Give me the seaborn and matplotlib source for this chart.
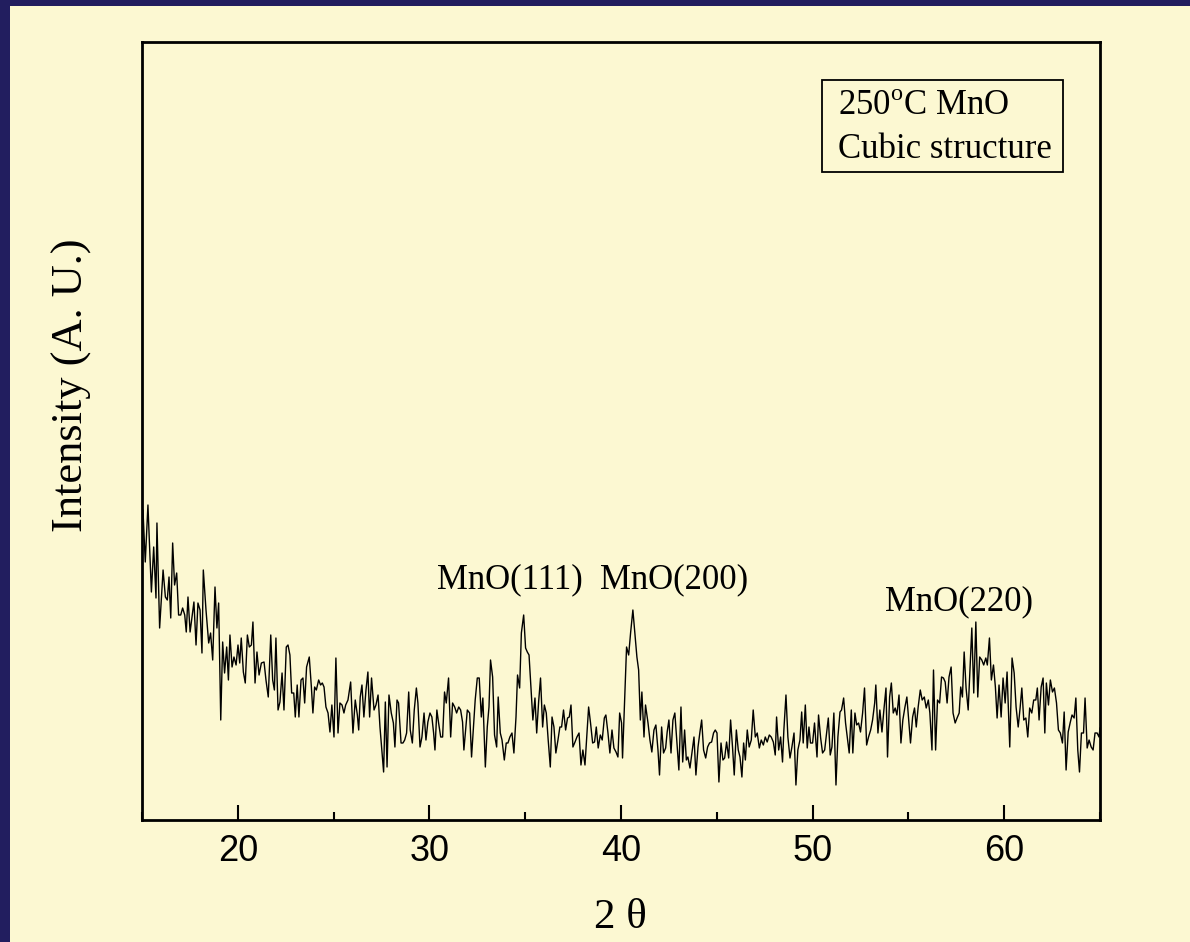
import numpy as np
import pandas as pd
import matplotlib
matplotlib.use("Agg")
import matplotlib.pyplot as plt
import seaborn as sns
from matplotlib.ticker import MultipleLocator
from matplotlib.patches import Rectangle

# XRD scan of 250 C MnO in pieces (2theta in degrees, intensity in a.u.)
tt_1 = [15.00, 15.05, 15.17, 15.31, 15.49, 15.61, 15.73, 15.78, 15.92, 16.10,
        16.22, 16.32, 16.41, 16.50, 16.60, 16.70, 16.81, 16.91, 17.02, 17.12,
        17.23, 17.31, 17.40, 17.51, 17.71, 17.82, 17.92, 18.03, 18.13, 18.20,
        18.34, 18.48, 18.58, 18.69, 18.81, 18.91, 19.00, 19.11, 19.21, 19.31,
        19.42, 19.51, 19.59, 19.70, 19.80, 19.91, 20.01, 20.10, 20.18, 20.29,
        20.39, 20.50, 20.60, 20.71, 20.79, 20.90, 21.00, 21.11, 21.23, 21.37,
        21.47, 21.59, 21.72, 21.82, 21.91, 21.99, 22.10, 22.20, 22.31, 22.41,
        22.53, 22.62, 22.72, 22.81, 22.92, 23.00, 23.10, 23.19, 23.30, 23.40]
int_1 = [290, 310, 258, 315, 228, 273, 222, 297, 192, 250,
         223, 220, 243, 202, 277, 235, 247, 205, 205, 212,
         205, 188, 223, 188, 218, 175, 217, 210, 167, 250,
         210, 177, 187, 160, 233, 192, 217, 100, 178, 147,
         173, 140, 185, 153, 163, 155, 175, 157, 182, 148,
         137, 185, 173, 175, 198, 137, 168, 145, 157, 158,
         140, 123, 185, 140, 130, 182, 110, 118, 147, 110,
         173, 175, 165, 127, 127, 103, 135, 103, 140, 142]

tt_2 = [23.49, 23.59, 23.73, 23.84, 23.92, 24.01, 24.10, 24.22, 24.32, 24.41,
        24.50, 24.60, 24.71, 24.81, 24.91, 25.02, 25.12, 25.23, 25.33, 25.44,
        25.54, 25.63, 25.75, 25.89, 26.01, 26.13, 26.24, 26.31, 26.39, 26.48,
        26.58, 26.69, 26.79, 26.88, 26.98, 27.11, 27.21, 27.32, 27.42, 27.52,
        27.61, 27.70, 27.79, 27.89, 28.01, 28.12, 28.20, 28.31, 28.39, 28.52,
        28.62, 28.71, 28.81, 28.92, 29.00, 29.11, 29.21, 29.32, 29.40, 29.51,
        29.61, 29.72, 29.82, 29.92, 30.03, 30.13, 30.22, 30.29, 30.39, 30.48,
        30.59, 30.69, 30.79, 30.88, 31.00, 31.11, 31.21, 31.32, 31.42, 31.53,
        31.63, 31.73]
int_2 = [117, 153, 163, 133, 107, 133, 130, 140, 135, 137,
         133, 113, 107, 88, 115, 83, 162, 87, 117, 115,
         107, 115, 120, 138, 87, 120, 105, 90, 123, 135,
         103, 130, 148, 103, 142, 110, 115, 125, 93, 70,
         48, 118, 53, 125, 107, 97, 73, 120, 117, 77,
         77, 80, 87, 128, 90, 77, 110, 132, 117, 73,
         83, 107, 80, 98, 107, 103, 87, 70, 110, 97,
         83, 83, 128, 117, 142, 83, 117, 113, 107, 113,
         110, 98]

tt_3 = [31.80, 31.98, 32.10, 32.20, 32.39, 32.50, 32.60, 32.71, 32.79, 32.92,
        33.02, 33.11, 33.19, 33.30, 33.40, 33.51, 33.59, 33.70, 33.79, 33.91,
        34.01, 34.10, 34.20, 34.31, 34.41, 34.52, 34.60, 34.71, 34.80, 34.92,
        35.02, 35.11, 35.20, 35.30, 35.40, 35.51, 35.60, 35.70, 35.80, 35.91,
        36.00, 36.10, 36.20, 36.31, 36.40, 36.50, 36.60, 36.71, 36.81, 36.90,
        37.00, 37.11, 37.21, 37.30, 37.39, 37.49, 37.60, 37.70, 37.81, 37.91,
        38.01, 38.12, 38.21, 38.31, 38.41, 38.52, 38.62, 38.71, 38.81, 38.92,
        39.02, 39.13, 39.21, 39.32, 39.42, 39.53, 39.63, 39.74, 39.84, 39.93,
        40.03]
int_3 = [70, 110, 107, 63, 120, 142, 142, 103, 122, 53,
         93, 113, 160, 143, 85, 73, 123, 87, 80, 60,
         77, 77, 83, 87, 67, 103, 145, 132, 187, 205,
         172, 168, 165, 133, 100, 122, 87, 118, 142, 93,
         115, 107, 80, 53, 103, 93, 67, 80, 93, 93,
         110, 90, 102, 103, 115, 73, 78, 83, 87, 55,
         70, 55, 83, 113, 97, 77, 78, 93, 72, 85,
         80, 102, 105, 87, 67, 90, 72, 68, 63, 107,
         97]

tt_4 = [40.08, 40.19, 40.29, 40.40, 40.50, 40.62, 40.74, 40.83, 40.92, 41.01,
        41.09, 41.20, 41.28, 41.41, 41.51, 41.61, 41.72, 41.82, 41.93, 42.01,
        42.12, 42.22, 42.33, 42.41, 42.50, 42.61, 42.71, 42.81, 42.92, 43.02,
        43.13, 43.22, 43.32, 43.41, 43.49, 43.60, 43.70, 43.81, 43.91, 44.02,
        44.12, 44.21, 44.31, 44.42, 44.52, 44.62, 44.73, 44.83, 44.92, 45.01,
        45.11, 45.22, 45.32, 45.41, 45.51, 45.62, 45.72, 45.82, 45.91, 46.02,
        46.12, 46.21, 46.31, 46.40, 46.49, 46.59, 46.69, 46.80, 46.90, 47.01,
        47.11, 47.22, 47.32, 47.43, 47.53, 47.63, 47.74, 47.84, 47.95, 48.05,
        48.12, 48.23, 48.33, 48.43]
int_4 = [62, 120, 173, 165, 187, 210, 183, 163, 150, 100,
         128, 83, 115, 97, 80, 68, 90, 95, 70, 45,
         93, 67, 72, 88, 100, 67, 100, 107, 77, 50,
         113, 58, 90, 60, 63, 52, 67, 83, 45, 73,
         88, 100, 70, 62, 73, 77, 78, 87, 90, 87,
         38, 77, 60, 62, 78, 62, 100, 73, 45, 90,
         70, 63, 43, 77, 60, 90, 73, 80, 110, 83,
         87, 72, 80, 75, 83, 78, 85, 83, 78, 65,
         103, 70, 83, 58]

tt_5 = [48.50, 48.61, 48.71, 48.82, 48.92, 49.03, 49.13, 49.23, 49.34, 49.43,
        49.51, 49.62, 49.72, 49.81, 49.89, 50.00, 50.10, 50.23, 50.31, 50.42,
        50.52, 50.63, 50.73, 50.82, 50.92, 51.01, 51.11, 51.22, 51.32, 51.43,
        51.51, 51.62, 51.72, 51.81, 51.91, 52.02, 52.10, 52.21, 52.30, 52.40,
        52.50, 52.61, 52.71, 52.82, 52.92, 53.03, 53.13, 53.24, 53.30, 53.41,
        53.51, 53.62, 53.72, 53.83, 53.91, 54.02, 54.11, 54.21, 54.31, 54.40,
        54.51, 54.61, 54.71, 54.82, 54.92, 55.03, 55.11, 55.22, 55.32, 55.41,
        55.51, 55.62, 55.72, 55.83, 55.93, 56.04, 56.12, 56.23, 56.31, 56.42,
        56.52, 56.63, 56.73]
int_5 = [90, 125, 83, 62, 73, 87, 35, 70, 80, 108,
         77, 115, 72, 93, 77, 77, 97, 63, 105, 82,
         67, 70, 87, 102, 65, 73, 107, 35, 83, 108,
         110, 122, 97, 83, 67, 110, 67, 107, 95, 97,
         88, 107, 132, 75, 83, 90, 100, 117, 135, 87,
         110, 88, 110, 132, 63, 123, 137, 107, 112, 105,
         125, 77, 100, 113, 123, 97, 77, 103, 112, 93,
         113, 130, 120, 123, 112, 120, 107, 70, 150, 70,
         120, 117, 143]

tt_6 = [56.83, 56.92, 57.02, 57.12, 57.23, 57.33, 57.44, 57.54, 57.65, 57.73,
        57.82, 57.91, 58.01, 58.12, 58.22, 58.31, 58.41, 58.52, 58.62, 58.72,
        58.83, 58.93, 59.04, 59.12, 59.23, 59.33, 59.44, 59.54, 59.63, 59.73,
        59.84, 59.94, 60.05, 60.15, 60.29, 60.41, 60.52, 60.62, 60.73, 60.83,
        60.92, 61.02, 61.13, 61.23, 61.33, 61.44, 61.54, 61.65, 61.73, 61.82,
        61.93, 62.03, 62.12, 62.20, 62.31, 62.41, 62.52, 62.62, 62.73, 62.83,
        62.93, 63.04, 63.13, 63.23, 63.34, 63.44, 63.54, 63.65, 63.74, 63.84,
        63.93, 64.03, 64.14, 64.22, 64.33, 64.43, 64.54, 64.64, 64.74, 64.85,
        64.95, 65.00]
int_6 = [142, 138, 117, 143, 153, 107, 97, 102, 107, 133,
         123, 168, 132, 110, 152, 192, 127, 198, 123, 163,
         160, 155, 162, 155, 182, 140, 155, 133, 102, 135,
         103, 142, 117, 148, 73, 162, 147, 113, 93, 112,
         132, 100, 102, 83, 112, 107, 120, 120, 132, 100,
         133, 142, 87, 137, 115, 140, 128, 132, 117, 90,
         87, 77, 108, 50, 88, 97, 105, 102, 122, 70,
         48, 87, 87, 122, 72, 80, 73, 70, 87, 87,
         83, 92]

peak_labels = ["MnO(111)", "MnO(200)", "MnO(220)"]
label_2theta = [34.21, 42.79, 57.64]
label_height = [232, 232, 210]
legend_lines = ["250$^{\\mathrm{o}}$C MnO", "Cubic structure"]

two_theta = np.concatenate([tt_1, tt_2, tt_3, tt_4, tt_5, tt_6])
intensity = np.concatenate([int_1, int_2, int_3, int_4, int_5, int_6])
df = pd.DataFrame({"two_theta": two_theta, "intensity": intensity})

bg = "#fcf8d2"
navy = "#221e5f"
plt.rcParams["mathtext.fontset"] = "custom"
plt.rcParams["mathtext.rm"] = "Liberation Serif"
plt.rcParams["font.family"] = ["Liberation Serif", "DejaVu Serif"]

fig = plt.figure(figsize=(11.9, 9.42), dpi=100, facecolor=bg)
ax = fig.add_axes([142 / 1190, 1 - 820 / 942, 958 / 1190, 778 / 942])
ax.set_facecolor(bg)

sns.lineplot(data=df, x="two_theta", y="intensity", ax=ax, color="black",
             lw=1.0, estimator=None, sort=False)

ax.set_xlim(15, 65)
ax.set_ylim(0, 778)
ax.set_yticks([])
ax.xaxis.set_major_locator(MultipleLocator(10))
ax.xaxis.set_minor_locator(MultipleLocator(5))
ax.tick_params(which="major", axis="x", direction="in", length=11, width=1.5,
               labelsize=26, pad=10, labelfontfamily="Liberation Sans")
ax.tick_params(which="minor", axis="x", direction="in", length=6, width=1.5)
for s in ax.spines.values():
    s.set_linewidth(2)

ax.set_xlabel("2 θ", fontsize=31)
ax.xaxis.label.set_va("center")
ax.xaxis.set_label_coords((620 - 142) / 958, (820 - 918) / 778)
ax.set_ylabel("Intensity (A. U.)", fontsize=32)
ax.yaxis.label.set_va("center")
ax.yaxis.set_label_coords((72 - 142) / 958, (820 - 385) / 778)

for name, xp, yp in zip(peak_labels, label_2theta, label_height):
    ax.text(xp, yp, name, ha="center", va="baseline", fontsize=25)

# legend-style box top right
ax.add_patch(Rectangle((0.7098, 0.8329), 0.2516, 0.1183, transform=ax.transAxes,
                       fill=False, ec="black", lw=1.3))
ax.text(0.7265, (820 - 115) / 778, legend_lines[0], transform=ax.transAxes,
        ha="left", va="baseline", fontsize=25)
ax.text(0.7265, (820 - 158) / 778, legend_lines[1], transform=ax.transAxes,
        ha="left", va="baseline", fontsize=25)

# dark frame strips at the top and left edge
fig.add_artist(Rectangle((0, 1 - 6 / 942), 1, 6 / 942, transform=fig.transFigure,
                         color=navy, lw=0))
fig.add_artist(Rectangle((0, 0), 10 / 1190, 1, transform=fig.transFigure,
                         color=navy, lw=0))

fig.savefig("out.png", dpi=100, facecolor=bg)
